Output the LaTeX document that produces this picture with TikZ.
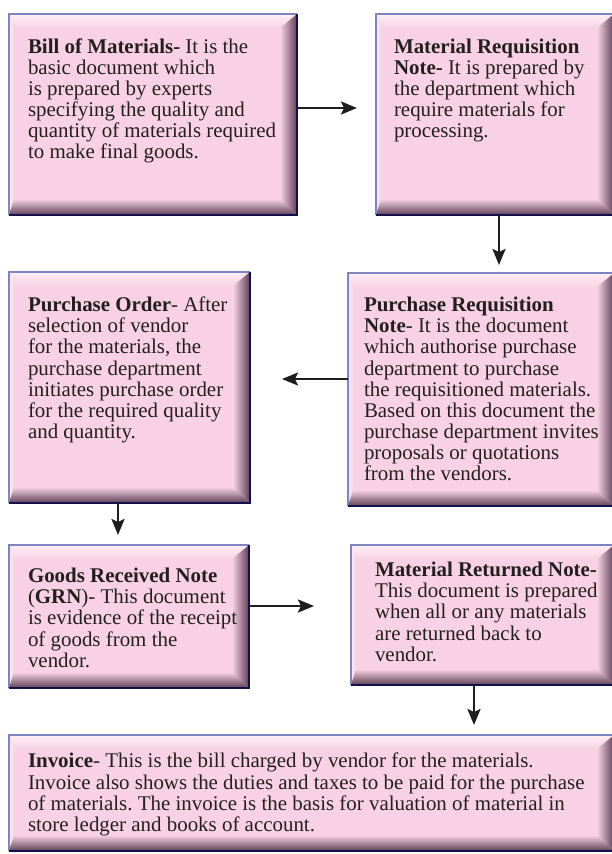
\documentclass[tikz,border=0pt]{standalone}
\usepackage{fontspec}
\setmainfont{Liberation Serif}
\usetikzlibrary{arrows.meta,calc}
\frenchspacing
\definecolor{boxpink}{HTML}{F8D2E4}
\definecolor{boxhi}{HTML}{FDEEF5}
\definecolor{boxdark}{HTML}{5E3F54}
\definecolor{bordlight}{HTML}{7E84C0}
\definecolor{borddark}{HTML}{12124A}
\definecolor{inkc}{HTML}{231F20}
\definecolor{arrowc}{HTML}{1E1E1E}
\tikzset{
  docbox/.style={rectangle, inner sep=0pt, outer sep=0pt, fill=boxpink,
    path picture={
      \coordinate (pnw) at (path picture bounding box.north west);
      \coordinate (pne) at (path picture bounding box.north east);
      \coordinate (psw) at (path picture bounding box.south west);
      \coordinate (pse) at (path picture bounding box.south east);
      \shade[top color=boxhi, bottom color=boxpink]
        (pnw) -- (pne) -- ([shift={(-17bp,-14bp)}]pne) -- ([shift={(5bp,-14bp)}]pnw) -- cycle;
      \shade[left color=boxhi, right color=boxpink]
        (pnw) -- ([shift={(5bp,-14bp)}]pnw) -- ([shift={(5bp,16bp)}]psw) -- (psw) -- cycle;
      \shade[top color=boxpink, middle color=boxpink!55!boxdark, bottom color=boxdark]
        (psw) -- ([shift={(5bp,16bp)}]psw) -- ([shift={(-17bp,16bp)}]pse) -- (pse) -- cycle;
      \shade[left color=boxpink, right color=boxdark]
        (pne) -- ([shift={(-17bp,-14bp)}]pne) -- ([shift={(-17bp,16bp)}]pse) -- (pse) -- cycle;
    }},
  doctext/.style={anchor=north west, inner sep=0pt, outer sep=0pt, align=left, text=inkc,
    font=\fontsize{21}{21.2}\selectfont},
  flow/.style={draw=arrowc, line width=2.3bp, -{Stealth[length=16bp, width=13bp, inset=3bp]}},
  litedge/.style={draw=bordlight, line width=2bp},
  darkedge/.style={draw=borddark, line width=2bp}
}
\begin{document}
\begin{tikzpicture}[x=1bp, y=-1bp]
\useasboundingbox (0,0) rectangle (612,854);
% boxes
\node[docbox, anchor=north west, minimum width=288bp, minimum height=201bp] (bom) at (9,14) {};
\node[docbox, anchor=north west, minimum width=238bp, minimum height=201bp] (mrn) at (376,14) {};
\node[docbox, anchor=north west, minimum width=266bp, minimum height=233bp] (prn) at (348,273) {};
\node[docbox, anchor=north west, minimum width=241bp, minimum height=231bp] (po) at (9,272) {};
\node[docbox, anchor=north west, minimum width=240bp, minimum height=143bp] (grn) at (9,545) {};
\node[docbox, anchor=north west, minimum width=263bp, minimum height=140bp] (mret) at (351,545) {};
\node[docbox, anchor=north west, minimum width=605bp, minimum height=116bp] (inv) at (9,735) {};
\foreach \b in {bom,mrn,prn,po,grn,mret,inv}{
  \draw[litedge] (\b.south west) -- (\b.north west) -- (\b.north east);
  \draw[darkedge] (\b.north east) -- (\b.south east) -- (\b.south west);
}
% texts
\node[doctext] (bomtext) at (28,38.5) {\strut\textbf{Bill of Materials-} It is the\\
basic document which\\
is prepared by experts\\
specifying the quality and\\
quantity of materials required\\
to make final goods.};
\node[doctext] (mrntext) at (394,38.5) {\strut\textbf{Material Requisition}\\
\textbf{Note-} It is prepared by\\
the department which\\
require materials for\\
processing.};
\node[doctext] (prntext) at (364,296.9) {\strut\textbf{Purchase Requisition}\\
\textbf{Note}- It is the document\\
which authorise purchase\\
department to purchase\\
the requisitioned materials.\\
Based on this document the\\
purchase department invites\\
proposals or quotations\\
from the vendors.};
\node[doctext] (potext) at (28,296.9) {\strut\textbf{Purchase Order}- After\\
selection of vendor\\
for the materials, the\\
purchase department\\
initiates purchase order\\
for the required quality\\
and quantity.};
\node[doctext] (grntext) at (28,567.9) {\strut\textbf{Goods Received Note}\\
(\textbf{GRN})- This document\\
is evidence of the receipt\\
of goods from the\\
vendor.};
\node[doctext] (mrettext) at (375,561.9) {\strut\textbf{Material Returned Note-}\\
This document is prepared\\
when all or any materials\\
are returned back to\\
vendor.};
\node[doctext] (invtext) at (28,753.2) {\strut\textbf{Invoice}- This is the bill charged by vendor for the materials.\\
Invoice also shows the duties and taxes to be paid for the purchase\\
of materials. The invoice is the basis for valuation of material in\\
store ledger and books of account.};
% connectors
\draw[flow, shorten >=19bp] ([yshift=6.5bp]bom.east) -- ([yshift=6.5bp]bom.east -| mrn.west);
\draw[flow, shorten >=8bp] ([xshift=4bp]mrn.south) -- ([xshift=4bp]mrn.south |- prn.north);
\draw[flow, shorten >=32bp] ([yshift=10.5bp]prn.west) -- ([yshift=10.5bp]prn.west -| po.east);
\draw[flow, shorten >=10bp] ([xshift=-11.5bp]po.south) -- ([xshift=-11.5bp]po.south |- grn.north);
\draw[flow, shorten >=37bp] ([yshift=10.5bp]grn.east) -- ([yshift=10.5bp]grn.east -| mret.west);
\draw[flow, shorten >=10bp] ([xshift=-8.5bp]mret.south) -- ([xshift=-8.5bp]mret.south |- inv.north);
\end{tikzpicture}
\end{document}
